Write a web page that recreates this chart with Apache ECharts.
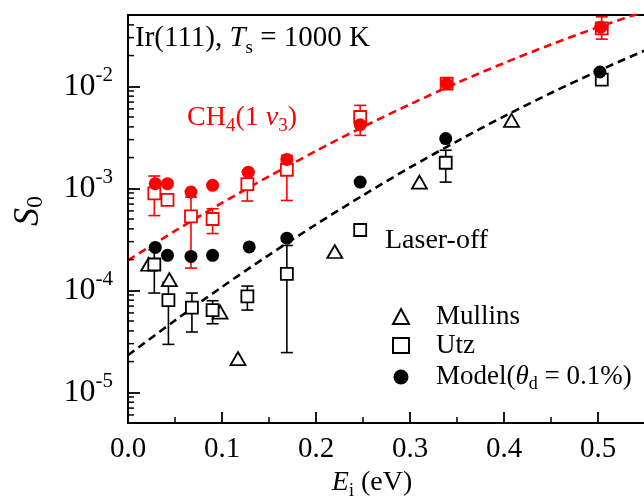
<!DOCTYPE html>
<html>
<head>
<meta charset="utf-8">
<script src="https://cdn.jsdelivr.net/npm/echarts@6/dist/echarts.min.js"></script>
<style>
  html, body { margin: 0; padding: 0; background: #fff; }
  #chart { width: 644px; height: 500px; }
</style>
</head>
<body>
<div id="chart"></div>
<script>
var serif = '"Liberation Serif", "Times New Roman", serif';

// CH4(1v3), laser on
var onModelE = [0.029, 0.042, 0.067, 0.090, 0.128, 0.169, 0.247, 0.339, 0.503];
var onModelS = [1.11e-3, 1.11e-3, 9.2e-4, 1.07e-3, 1.44e-3, 1.92e-3, 4.2e-3, 1.06e-2, 3.8e-2];
var onUtzE = [0.028, 0.042, 0.067, 0.090, 0.127, 0.169, 0.247, 0.339, 0.504];
var onUtzS = [8.9e-4, 7.7e-4, 5.3e-4, 5.0e-4, 1.1e-3, 1.52e-3, 5.0e-3, 1.06e-2, 3.7e-2];
var onUtzLo = [5.4e-4, 7.7e-4, 1.65e-4, 3.6e-4, 7.5e-4, 7.6e-4, 3.3e-3, 1.06e-2, 2.9e-2];
var onUtzHi = [1.32e-3, 7.7e-4, 8.2e-4, 6.3e-4, 1.45e-3, 2.1e-3, 6.5e-3, 1.06e-2, 4.8e-2];

// laser off
var offModelE = [0.029, 0.042, 0.067, 0.090, 0.129, 0.169, 0.247, 0.338, 0.502];
var offModelS = [2.63e-4, 2.2e-4, 2.15e-4, 2.2e-4, 2.66e-4, 3.24e-4, 1.15e-3, 3.07e-3, 1.38e-2];
var offUtzE = [0.028, 0.043, 0.068, 0.090, 0.127, 0.169, 0.247, 0.338, 0.504];
var offUtzS = [1.79e-4, 8.0e-5, 6.76e-5, 6.4e-5, 8.7e-5, 1.45e-4, 3.9e-4, 1.78e-3, 1.16e-2];
var offUtzLo = [9.4e-5, 2.95e-5, 3.9e-5, 4.7e-5, 6.4e-5, 2.45e-5, 3.9e-4, 1.15e-3, 1.16e-2];
var offUtzHi = [2.5e-4, 1.2e-4, 9.4e-5, 7.9e-5, 1.1e-4, 2.75e-4, 3.9e-4, 2.36e-3, 1.16e-2];
var mullinsE = [0.022, 0.044, 0.098, 0.117, 0.220, 0.310, 0.408];
var mullinsS = [1.8e-4, 1.27e-4, 6.1e-5, 2.14e-5, 2.4e-4, 1.15e-3, 4.64e-3];

var fitE = [0, 0.05, 0.10, 0.15, 0.20, 0.25, 0.30, 0.35, 0.40, 0.45, 0.50, 0.55];
var onFitS = [1.97e-4, 3.82e-4, 7.19e-4, 1.31e-3, 2.32e-3, 4.0e-3, 6.65e-3, 1.08e-2, 1.69e-2, 2.57e-2, 3.79e-2, 5.43e-2];
var offFitS = [2.31e-5, 5.06e-5, 1.08e-4, 2.22e-4, 4.42e-4, 8.53e-4, 1.6e-3, 2.89e-3, 5.07e-3, 8.6e-3, 1.41e-2, 2.25e-2];

// minor ticks of the log axis
var yMinorTicks = [5e-6, 6e-6, 7e-6, 8e-6, 9e-6,
  2e-5, 3e-5, 4e-5, 5e-5, 6e-5, 7e-5, 8e-5, 9e-5,
  2e-4, 3e-4, 4e-4, 5e-4, 6e-4, 7e-4, 8e-4, 9e-4,
  2e-3, 3e-3, 4e-3, 5e-3, 6e-3, 7e-3, 8e-3, 9e-3,
  2e-2, 3e-2, 4e-2];

function zip(xs, ys) {
  return xs.map(function (x, i) { return [x, ys[i]]; });
}

function errorBars(xs, lo, hi, color) {
  return {
    type: 'custom', silent: true, z: 2,
    encode: { x: 0, y: [1, 2] },
    data: xs.map(function (x, i) { return [x, lo[i], hi[i]]; }),
    renderItem: function (params, api) {
      var a = api.coord([api.value(0), api.value(1)]);
      var b = api.coord([api.value(0), api.value(2)]);
      if (Math.abs(a[1] - b[1]) < 1) return;
      var st = { stroke: color, lineWidth: 1.6 };
      return {
        type: 'group',
        children: [
          { type: 'line', shape: { x1: a[0], y1: a[1], x2: b[0], y2: b[1] }, style: st },
          { type: 'line', shape: { x1: a[0] - 6, y1: a[1], x2: a[0] + 6, y2: a[1] }, style: st },
          { type: 'line', shape: { x1: b[0] - 6, y1: b[1], x2: b[0] + 6, y2: b[1] }, style: st }
        ]
      };
    }
  };
}

function txt(size, color, extra) {
  var o = { fontFamily: serif, fontSize: size, lineHeight: size + 2, fill: color, color: color };
  for (var k in extra) o[k] = extra[k];
  return o;
}
function subStyle(size, color, drop) {
  return txt(size, color, { lineHeight: size, padding: [drop, 0, 0, 0] });
}

var chart = echarts.init(document.getElementById('chart'));

var option = {
  backgroundColor: '#fff',
  animation: false,
  grid: { left: 128, top: 15, width: 564, height: 408, outerBoundsMode: 'none', containLabel: false },
  xAxis: [{
    type: 'value', min: 0, max: 0.6, interval: 0.1,
    axisLine: { lineStyle: { color: '#000', width: 2 } },
    axisTick: { inside: true, length: 11, lineStyle: { color: '#000', width: 1.8 } },
    minorTick: { show: true, splitNumber: 2, length: 6, lineStyle: { color: '#000', width: 1.5 } },
    splitLine: { show: false },
    axisLabel: {
      margin: 12, color: '#000', fontFamily: serif, fontSize: 29, showMaxLabel: false,
      formatter: function (v) { return v.toFixed(1); }
    }
  }, {
    type: 'value', position: 'top', min: 0, max: 0.6,
    axisLine: { show: true, lineStyle: { color: '#000', width: 2 } },
    axisTick: { show: false }, axisLabel: { show: false }, splitLine: { show: false }
  }],
  yAxis: {
    type: 'log', logBase: 10, min: 5e-6, max: 5e-2,
    axisLine: { show: true, lineStyle: { color: '#000', width: 2 } },
    axisTick: { inside: true, length: 12, lineStyle: { color: '#000', width: 1.8 } },
    splitLine: { show: false },
    axisLabel: {
      margin: 15, showMinLabel: false, showMaxLabel: false,
      formatter: function (v) {
        return '{b|10}{s|' + Math.round(Math.log10(v)) + '}';
      },
      rich: {
        b: txt(32, '#000', { lineHeight: 34 }),
        s: txt(21, '#000', { lineHeight: 21, padding: [0, 0, 22, 0] })
      }
    }
  },
  legend: {
    data: ['Mullins', 'Utz', 'Model'],
    orient: 'vertical', left: 387, top: 298,
    itemWidth: 16, itemHeight: 15, itemGap: 2,
    selectedMode: false,
    formatter: function (name) {
      if (name === 'Model') return '{sp| }{n|Model(}{i|θ}{d|d}{n| = 0.1%)}';
      return '{sp| }{n|' + name + '}';
    },
    textStyle: {
      color: '#000', fontFamily: serif, fontSize: 27,
      rich: {
        sp: { width: 22 },
        n: txt(27, '#000', { lineHeight: 30 }),
        i: txt(27, '#000', { lineHeight: 30, fontStyle: 'italic' }),
        d: subStyle(18, '#000', 14)
      }
    }
  },
  graphic: [
    {
      type: 'text', x: 135, y: 38, silent: true,
      style: {
        text: '{n|Ir(111), }{i|T}{s|s}{n| = 1000 K}',
        align: 'left', verticalAlign: 'middle',
        rich: { n: txt(29, '#000', { lineHeight: 30 }), i: txt(29, '#000', { lineHeight: 30, fontStyle: 'italic' }), s: subStyle(19, '#000', 20) }
      }
    },
    {
      type: 'text', x: 187, y: 118, silent: true,
      style: {
        text: '{n|CH}{s|4}{n|(1 }{i|ν}{s|3}{n|)}',
        align: 'left', verticalAlign: 'middle',
        rich: { n: txt(28, '#f00', { lineHeight: 30 }), i: txt(28, '#f00', { lineHeight: 30, fontStyle: 'italic' }), s: subStyle(19, '#f00', 16) }
      }
    },
    {
      type: 'text', x: 385, y: 241, silent: true,
      style: { text: '{n|Laser-off}', align: 'left', verticalAlign: 'middle', rich: { n: txt(28, '#000', {}) } }
    },
    {
      type: 'text', x: 372, y: 483, silent: true,
      style: {
        text: '{i|E}{s|i}{n| (eV)}', align: 'center', verticalAlign: 'middle',
        rich: { n: txt(28, '#000', { lineHeight: 30 }), i: txt(28, '#000', { lineHeight: 30, fontStyle: 'italic' }), s: subStyle(18, '#000', 16) }
      }
    },
    {
      type: 'text', x: 29, y: 211, rotation: Math.PI / 2, silent: true,
      style: {
        text: '{i|S}{s|0}', align: 'center', verticalAlign: 'middle',
        rich: { i: txt(36, '#000', { lineHeight: 38, fontStyle: 'italic' }), s: subStyle(24, '#000', 14) }
      }
    }
  ],
  series: [
    {
      type: 'custom', silent: true, z: 6,
      encode: { x: 0, y: 1 },
      data: yMinorTicks.map(function (v) { return [0, v]; }),
      renderItem: function (params, api) {
        var p = api.coord([0, api.value(1)]);
        return { type: 'line', shape: { x1: p[0], y1: p[1], x2: p[0] + 6, y2: p[1] }, style: { stroke: '#000', lineWidth: 1.5 } };
      }
    },
    {
      name: 'fit on', type: 'line', data: zip(fitE, onFitS), smooth: 0.3,
      symbol: 'none', z: 1, silent: true,
      lineStyle: { color: '#f00', width: 2.6, type: [8, 5] }
    },
    {
      name: 'fit off', type: 'line', data: zip(fitE, offFitS), smooth: 0.3,
      symbol: 'none', z: 1, silent: true,
      lineStyle: { color: '#000', width: 2.6, type: [8, 5] }
    },
    errorBars(onUtzE, onUtzLo, onUtzHi, '#f00'),
    errorBars(offUtzE, offUtzLo, offUtzHi, '#000'),
    {
      name: 'Mullins', type: 'scatter', data: zip(mullinsE, mullinsS), z: 3,
      symbol: 'triangle', symbolSize: [15, 13],
      itemStyle: { color: '#fff', borderColor: '#000', borderWidth: 1.8, opacity: 1 }
    },
    {
      name: 'Utz', type: 'scatter', data: zip(offUtzE, offUtzS), z: 4,
      symbol: 'rect', symbolSize: 12,
      itemStyle: { color: '#fff', borderColor: '#000', borderWidth: 1.8, opacity: 1 }
    },
    {
      name: 'Utz on', type: 'scatter', data: zip(onUtzE, onUtzS), z: 4,
      symbol: 'rect', symbolSize: 12,
      itemStyle: { color: '#fff', borderColor: '#f00', borderWidth: 1.8, opacity: 1 }
    },
    {
      name: 'Model', type: 'scatter', data: zip(offModelE, offModelS), z: 5,
      symbol: 'circle', symbolSize: 13,
      itemStyle: { color: '#000', opacity: 1 }
    },
    {
      name: 'Model on', type: 'scatter', data: zip(onModelE, onModelS), z: 5,
      symbol: 'circle', symbolSize: 13,
      itemStyle: { color: '#f00', opacity: 1 }
    }
  ]
};

chart.setOption(option);
</script>
</body>
</html>
